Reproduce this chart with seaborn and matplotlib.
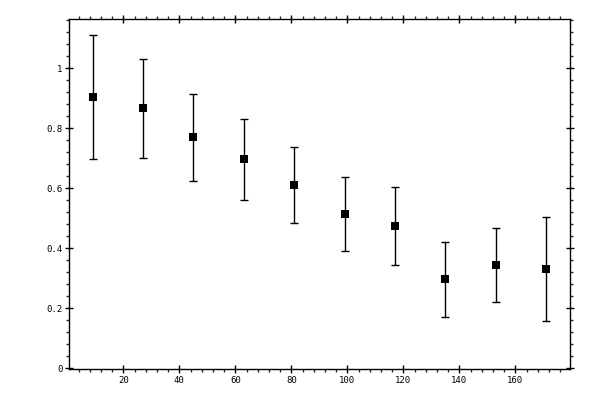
import matplotlib
matplotlib.use("Agg")
import matplotlib.pyplot as plt
from matplotlib.ticker import MultipleLocator
import seaborn as sns
import pandas as pd

# values
x_centers = [9, 27, 45, 63, 81, 99, 117, 135, 153, 171]
y_values = [0.904, 0.867, 0.770, 0.697, 0.610, 0.514, 0.474, 0.297, 0.344, 0.330]
y_errors = [0.207, 0.165, 0.145, 0.135, 0.126, 0.123, 0.130, 0.125, 0.122, 0.173]


def main():
    sns.set_style("white")
    plt.rcParams['font.family'] = ['DejaVu Sans Mono', 'DejaVu Sans']

    df = pd.DataFrame({"x": x_centers, "y": y_values, "err": y_errors})

    fig = plt.figure(figsize=(6, 4), dpi=100)
    ax = fig.add_axes([0.1155, 0.0768, 0.8345, 0.8752])

    # error bars first, markers on top
    ax.errorbar(df["x"], df["y"], yerr=df["err"], fmt="none",
                ecolor="black", elinewidth=1.0, capsize=3, capthick=1.0)
    sns.scatterplot(data=df, x="x", y="y", marker="s", s=28, color="black",
                    edgecolor="black", linewidth=0, ax=ax, zorder=3)

    ax.set_xlim(0.7, 179.5)
    ax.set_ylim(-0.003, 1.163)
    ax.set_xlabel("")
    ax.set_ylabel("")

    ax.xaxis.set_major_locator(MultipleLocator(20))
    ax.xaxis.set_minor_locator(MultipleLocator(4))
    ax.yaxis.set_major_locator(MultipleLocator(0.2))
    ax.yaxis.set_minor_locator(MultipleLocator(0.04))
    ax.yaxis.set_major_formatter(plt.FuncFormatter(lambda v, p: "0" if abs(v) < 1e-9 else f"{v:g}"))

    for s in ax.spines.values():
        s.set_visible(True)
        s.set_color("black")
        s.set_linewidth(1.0)

    ax.tick_params(which="major", direction="inout", length=6, width=1.0,
                   top=True, right=True, bottom=True, left=True,
                   labelsize=6.5, pad=2, colors="black")
    ax.tick_params(which="minor", direction="out", length=2.5, width=1.0,
                   top=True, right=True, bottom=True, left=True)
    ax.tick_params(labeltop=False, labelright=False)

    fig.savefig("out.png", dpi=100)


if __name__ == "__main__":
    main()
